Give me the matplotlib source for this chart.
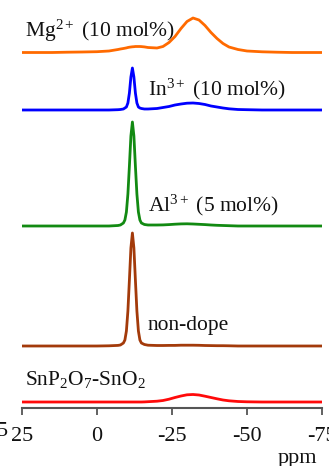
import matplotlib
matplotlib.use('Agg')
import matplotlib.pyplot as plt

# chemical shift grid (ppm), denser around the sharp peak near -11.8 ppm
ppm = [25, 20, 15, 10, 5, 0, -4, -7, -7.8, -8.8, -9.3, -9.8, -10.3, -10.8, -11.3,
       -11.8, -12.3, -12.8, -13.3, -13.8, -14.3, -14.8, -15.8, -17, -20, -22, -24,
       -26, -28, -30, -32, -34, -36, -38, -40, -42, -44, -47, -50, -55, -60, -65,
       -70, -75]

# intensities (arbitrary units above each baseline)
mg_int = [0, 0, 0, 0.3, 0.5, 0.8, 1.5, 3, 3.5, 4, 4.3, 4.6, 5, 5.3, 5.5,
          5.7, 5.8, 6, 6, 6, 6, 5.9, 5.6, 5, 4.5, 6, 10,
          16, 24, 31, 34.5, 32.5, 27, 20, 14, 9, 5.5, 3, 1.5, 0.7, 0.3, 0,
          0, 0]
in_int = [0, 0, 0, 0, 0, 0, 0, 0.3, 0.5, 1, 2, 3, 7, 17, 33,
          42, 33, 17, 7, 3, 2, 1.5, 1, 1, 1.5, 2.5, 3.5,
          5, 6, 6.8, 7, 6.5, 5.5, 4, 3, 2, 1.2, 0.5, 0.3, 0, 0, 0,
          0, 0]
al_int = [0, 0, 0, 0, 0, 0, 0, 0.5, 1, 3, 6, 14, 32, 60, 90,
          104, 90, 60, 32, 14, 6, 3, 1.5, 1, 1, 1.1, 1.4,
          1.8, 2.1, 2.2, 2, 1.7, 1.4, 1, 0.7, 0.5, 0.3, 0, 0, 0, 0, 0,
          0, 0]
nd_int = [0, 0, 0, 0, 0, 0, 0.2, 0.6, 1, 3, 6, 15, 35, 66, 98,
          113, 98, 66, 35, 15, 6, 3, 1.5, 0.8, 0.5, 0.5, 0.6,
          0.6, 0.8, 0.8, 0.8, 0.7, 0.5, 0.4, 0.3, 0.3, 0.2, 0, 0, 0, 0, 0,
          0, 0]
sn_int = [0, 0, 0, 0, 0, 0, 0, 0, 0, 0, 0, 0, 0, 0, 0,
          0, 0, 0, 0, 0, 0, 0, 0.1, 0.3, 0.8, 1.5, 2.8,
          4.5, 6, 7.2, 7.5, 7, 5.8, 4.5, 3.2, 2, 1.2, 0.5, 0.2, 0, 0, 0,
          0, 0]

series = [mg_int, in_int, al_int, nd_int, sn_int]
offsets = [355.5, 298, 182, 62, 6]
names = ['Mg$^{2+}$ (10 mol%)', 'In$^{3+}$ (10 mol%)', 'Al$^{3+}$ (5 mol%)',
         'non-dope', 'SnP$_2$O$_7$-SnO$_2$']
colors = ['#ff6a00', '#0000ff', '#128a12', '#a33a0a', '#ff0a0a']
label_x = [24, -17, -17, -17, 24]
label_y = [371, 313, 196.3, 78, 23]

xticks = [25, 0, -25, -50, -75]

plt.rcParams.update({
    'font.family': ['Liberation Serif', 'DejaVu Serif'],
    'mathtext.fontset': 'custom',
    'mathtext.rm': 'Liberation Serif',
    'mathtext.it': 'Liberation Serif:italic',
    'mathtext.bf': 'Liberation Serif:bold',
    'axes.unicode_minus': False,
})

W, H = 329, 466
fig = plt.figure(figsize=(W / 100, H / 100), dpi=100)
ax = fig.add_axes([22 / W, 1 - 408 / H, 300 / W, 408 / H])

for vals, off, col in zip(series, offsets, colors):
    ax.plot(ppm, [v + off for v in vals], color=col, linewidth=2.0,
            solid_joinstyle='round')

for name, lx, ly in zip(names, label_x, label_y):
    ax.text(lx, ly, name, fontsize=15.5, ha='left', va='baseline', color='#111111')

ax.set_xlim(25, -75)
ax.set_ylim(0, 408)
ax.set_xticks(xticks)
ax.set_xticklabels([str(t) for t in xticks])
ax.set_yticks([])
ax.tick_params(axis='x', direction='out', length=5, width=1.3, color='#555555',
               labelsize=16, pad=9, labelcolor='#111111')
for s in ['top', 'right', 'left']:
    ax.spines[s].set_visible(False)
ax.spines['bottom'].set_color('#555555')
ax.spines['bottom'].set_linewidth(1.5)
ax.patch.set_alpha(0)

fig.text(297 / W, 3 / H, 'ppm', fontsize=16, ha='center', va='baseline', color='#111111')
fig.text(8 / W, (H - 431) / H, '5', fontsize=16, ha='right', va='center', color='#111111')

fig.savefig('out.png', dpi=100)
